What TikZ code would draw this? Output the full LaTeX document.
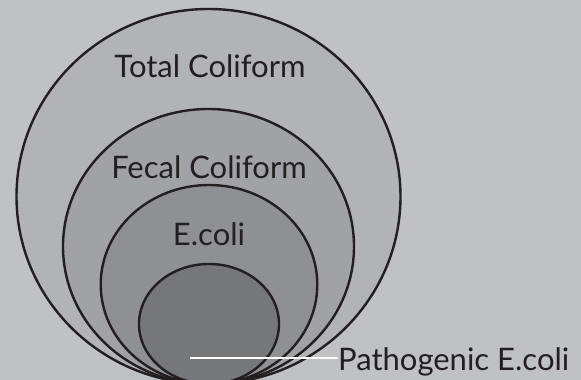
\documentclass[tikz,border=0pt]{standalone}
\usepackage{fontspec}
\setmainfont{Lato}
\definecolor{bgc}{HTML}{C0C1C5}
\definecolor{c1}{HTML}{B2B3B7}
\definecolor{c2}{HTML}{A1A2A6}
\definecolor{c3}{HTML}{8F9094}
\definecolor{c4}{HTML}{76777B}
\definecolor{ink}{HTML}{231F20}
\begin{document}
\begin{tikzpicture}[x=1pt,y=-1pt,
  ring/.style={draw=ink,line width=2.4pt},
  lbl/.style={inner sep=0pt,text=ink,font=\fontsize{31}{33}\selectfont}]
\fill[bgc] (0,0) rectangle (581,380);
\useasboundingbox (0,0) rectangle (581,380);
\begin{scope}
\clip (0,0) rectangle (581,380);
\draw[ring,fill=c1] (208.5,196.5) ellipse [x radius=192pt, y radius=187.5pt];
\draw[ring,fill=c2] (208.5,246.5) ellipse [x radius=145.5pt, y radius=137.5pt];
\draw[ring,fill=c3] (209,284.5) ellipse [x radius=108.3pt, y radius=99.5pt];
\draw[ring,fill=c4] (209,324) ellipse [x radius=70pt, y radius=60pt];
\end{scope}
\node[lbl,anchor=base] (total) at (210,77.3) {Total Coliform};
\node[lbl,anchor=base] (fecal) at (209,178) {Fecal Coliform};
\node[lbl,anchor=base] (ecoli) at (209,245) {E.coli};
\node[lbl,anchor=base west] (patho) at (338,370) {Pathogenic E.coli};
\coordinate (pstart) at (190,358);
\draw[white,line width=2pt] (pstart) -- (pstart -| patho.west);
\end{tikzpicture}
\end{document}
